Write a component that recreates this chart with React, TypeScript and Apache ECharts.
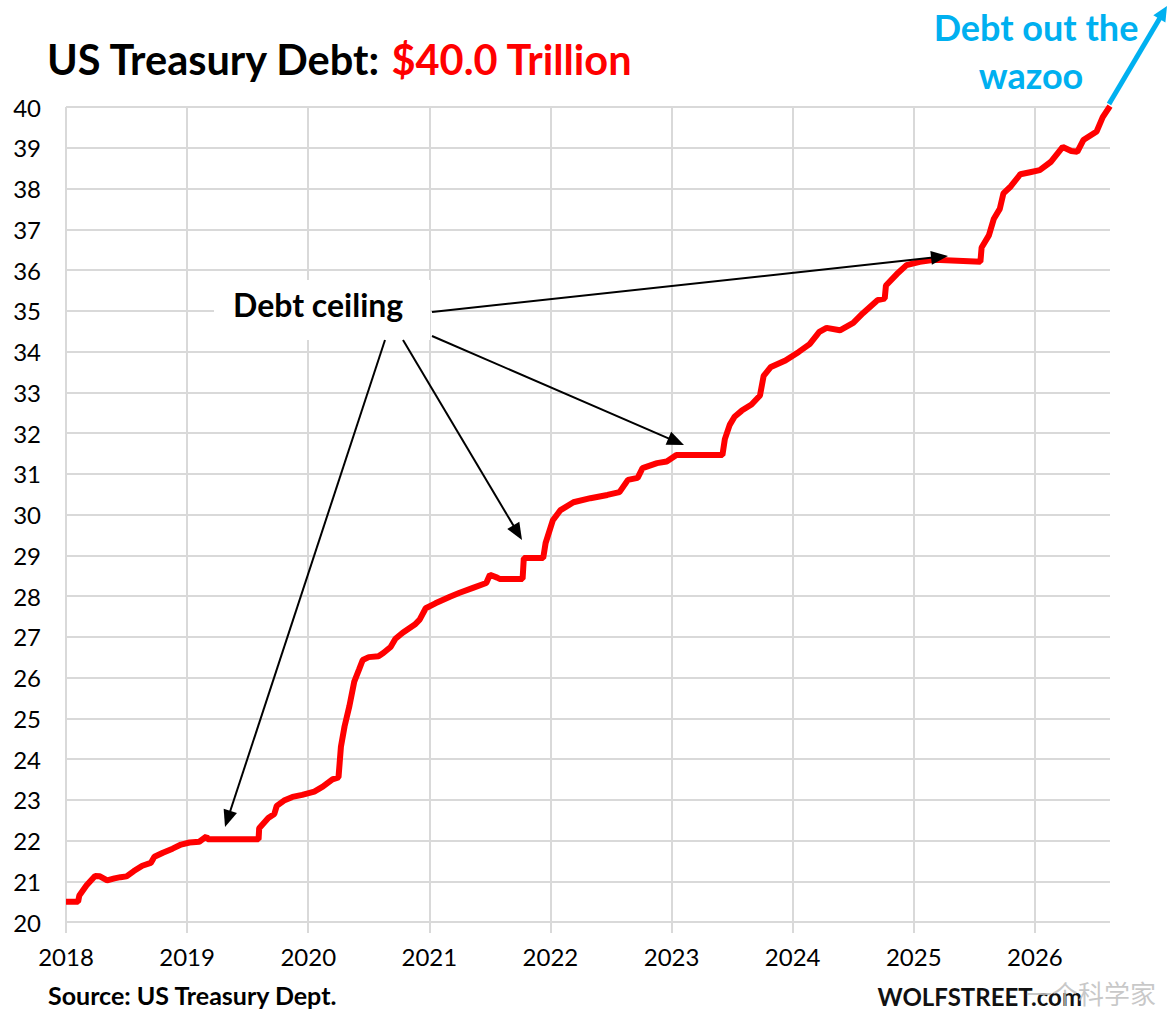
import React, { useEffect, useRef } from "react";
import * as echarts from "echarts";

const yearTicks = [2018, 2019, 2020, 2021, 2022, 2023, 2024, 2025, 2026];
const xMin = 2018;
const xMax = 2026.62;
const yMin = 20;
const yMax = 40;

// decimal year
const dates = [
  2018.0, 2018.1, 2018.11, 2018.17, 2018.24, 2018.28, 2018.34, 2018.4, 2018.45, 2018.5,
  2018.56, 2018.63, 2018.7, 2018.73, 2018.8, 2018.88, 2018.95, 2019.02, 2019.1, 2019.16,
  2019.17, 2019.59, 2019.595, 2019.67, 2019.72, 2019.74, 2019.8, 2019.87, 2019.95, 2020.05,
  2020.12, 2020.2, 2020.25, 2020.27, 2020.3, 2020.34, 2020.38, 2020.42, 2020.45, 2020.5,
  2020.58, 2020.62, 2020.68, 2020.72, 2020.78, 2020.88, 2020.92, 2020.97, 2021.05, 2021.17,
  2021.25, 2021.36, 2021.47, 2021.5, 2021.56, 2021.58, 2021.77, 2021.78, 2021.94, 2021.96,
  2022.02, 2022.08, 2022.19, 2022.33, 2022.47, 2022.57, 2022.64, 2022.72, 2022.76, 2022.88,
  2022.96, 2023.04, 2023.42, 2023.44, 2023.48, 2023.52, 2023.58, 2023.66, 2023.73,
  2023.76, 2023.82, 2023.94, 2024.05, 2024.14, 2024.22, 2024.28, 2024.39, 2024.5, 2024.58,
  2024.7, 2024.76, 2024.77, 2024.86, 2024.94, 2025.05, 2025.17, 2025.55, 2025.56, 2025.62,
  2025.66, 2025.71, 2025.74, 2025.8, 2025.88, 2025.96, 2026.04, 2026.13, 2026.23, 2026.3,
  2026.35, 2026.4, 2026.51, 2026.56, 2026.62,
];

// US Treasury debt, trillion $
const debt = [
  20.5, 20.5, 20.65, 20.9, 21.13, 21.12, 21.02, 21.07, 21.1, 21.12,
  21.25, 21.38, 21.45, 21.6, 21.7, 21.8, 21.9, 21.95, 21.97, 22.1,
  22.03, 22.03, 22.3, 22.55, 22.65, 22.85, 22.98, 23.07, 23.12, 23.2,
  23.32, 23.5, 23.55, 24.3, 24.8, 25.3, 25.9, 26.2, 26.43, 26.5,
  26.52, 26.6, 26.75, 26.95, 27.1, 27.3, 27.42, 27.7, 27.82, 27.98,
  28.08, 28.2, 28.32, 28.52, 28.45, 28.42, 28.42, 28.93, 28.93, 29.3,
  29.86, 30.1, 30.3, 30.4, 30.48, 30.55, 30.85, 30.9, 31.14, 31.26,
  31.3, 31.46, 31.46, 31.85, 32.2, 32.4, 32.55, 32.7, 32.92,
  33.4, 33.62, 33.78, 33.99, 34.18, 34.48, 34.58, 34.52, 34.7, 34.94,
  35.26, 35.3, 35.62, 35.9, 36.12, 36.2, 36.25, 36.2, 36.55, 36.85,
  37.25, 37.5, 37.88, 38.05, 38.35, 38.4, 38.45, 38.65, 39.02, 38.92,
  38.9, 39.19, 39.4, 39.75, 40.02,
];

const FONT = "Lato, 'Open Sans', sans-serif";

function arrow(
  x1: number, y1: number, x2: number, y2: number,
  color: string, width: number, headLen: number, headW: number
) {
  const dx = x2 - x1, dy = y2 - y1;
  const L = Math.hypot(dx, dy);
  const ux = dx / L, uy = dy / L;
  const bx = x2 - ux * headLen, by = y2 - uy * headLen;
  const px = -uy, py = ux;
  return [
    { type: "line", z: 100, shape: { x1, y1, x2: bx + ux * 2, y2: by + uy * 2 }, style: { stroke: color, lineWidth: width } },
    {
      type: "polygon", z: 100,
      shape: { points: [[x2, y2], [bx + (px * headW) / 2, by + (py * headW) / 2], [bx - (px * headW) / 2, by - (py * headW) / 2]] },
      style: { fill: color },
    },
  ];
}

export default function App() {
  const ref = useRef<HTMLDivElement>(null);
  useEffect(() => {
    document.body.style.margin = "0";
    const chart = echarts.init(ref.current!, null, { renderer: "svg" });
    const grid = "#d9d9d9";
    chart.setOption({
      animation: false,
      backgroundColor: "#ffffff",
      grid: { left: 66, right: 58, top: 107, bottom: 93, containLabel: false },
      xAxis: {
        type: "value",
        min: xMin,
        max: xMax,
        axisLine: { show: false },
        axisTick: { show: true, length: 11, customValues: yearTicks, lineStyle: { color: grid, width: 2 } },
        axisLabel: { customValues: yearTicks, formatter: (v: number) => String(Math.round(v)), fontSize: 24, color: "#000", fontFamily: FONT, margin: 22 },
        splitLine: { show: true, lineStyle: { color: grid, width: 2 } },
      },
      yAxis: {
        type: "value",
        min: yMin,
        max: yMax,
        interval: 1,
        axisLine: { show: false },
        axisTick: { show: false },
        axisLabel: { fontSize: 24, color: "#000", fontFamily: FONT, margin: 25 },
        splitLine: { show: true, lineStyle: { color: grid, width: 2 } },
      },
      series: [
        {
          type: "line",
          data: dates.map((d, i) => [d, debt[i]]),
          showSymbol: false,
          lineStyle: { color: "#ff0000", width: 6 },
          z: 5,
        },
      ],
      graphic: [
        {
          type: "text", z: 100, x: 47, y: 59,
          style: {
            text: "{a|US Treasury Debt: }{b|$40.0 Trillion}",
            textVerticalAlign: "middle",
            rich: {
              a: { fontSize: 41.5, fontWeight: "bold", fill: "#000", fontFamily: FONT },
              b: { fontSize: 41.5, fontWeight: "bold", fill: "#ff0000", fontFamily: FONT },
            },
          },
        },
        { type: "rect", z: 50, shape: { x: 214, y: 280, width: 216, height: 60 }, style: { fill: "#ffffff" } },
        {
          type: "text", z: 100, x: 233, y: 304,
          style: { text: "Debt ceiling", font: `bold 32px ${FONT}`, fill: "#000", textVerticalAlign: "middle" },
        },
        {
          type: "text", z: 100, x: 1036, y: 27,
          style: { text: "Debt out the", font: `bold 36px ${FONT}`, fill: "#00b0f0", textAlign: "center", textVerticalAlign: "middle" },
        },
        {
          type: "text", z: 100, x: 1031, y: 75,
          style: { text: "wazoo", font: `bold 36px ${FONT}`, fill: "#00b0f0", textAlign: "center", textVerticalAlign: "middle" },
        },
        {
          type: "text", z: 100, x: 48, y: 995,
          style: { text: "Source: US Treasury Dept.", font: `bold 25px ${FONT}`, fill: "#000", textVerticalAlign: "middle" },
        },
        {
          type: "text", z: 100, x: 1082, y: 996,
          style: { text: "WOLFSTREET.com", font: `bold 24px ${FONT}`, fill: "#111", textAlign: "right", textVerticalAlign: "middle" },
        },
        {
          type: "text", z: 101, x: 1156, y: 992,
          style: { text: "一个科学家", font: `26px 'Noto Sans CJK SC'`, fill: "rgba(190,190,190,0.85)", textAlign: "right", textVerticalAlign: "middle" },
        },
        ...arrow(432, 312, 948, 256, "#000", 2, 17, 14),
        ...arrow(432, 336, 684, 445, "#000", 2, 17, 14),
        ...arrow(403, 340, 522, 540, "#000", 2, 17, 14),
        ...arrow(385, 340, 225, 827, "#000", 2, 17, 14),
        ...arrow(1109, 104, 1167, 6, "#00b0f0", 5, 15, 14),
      ],
    });
    return () => chart.dispose();
  }, []);
  return <div ref={ref} style={{ width: 1168, height: 1015 }} />;
}
